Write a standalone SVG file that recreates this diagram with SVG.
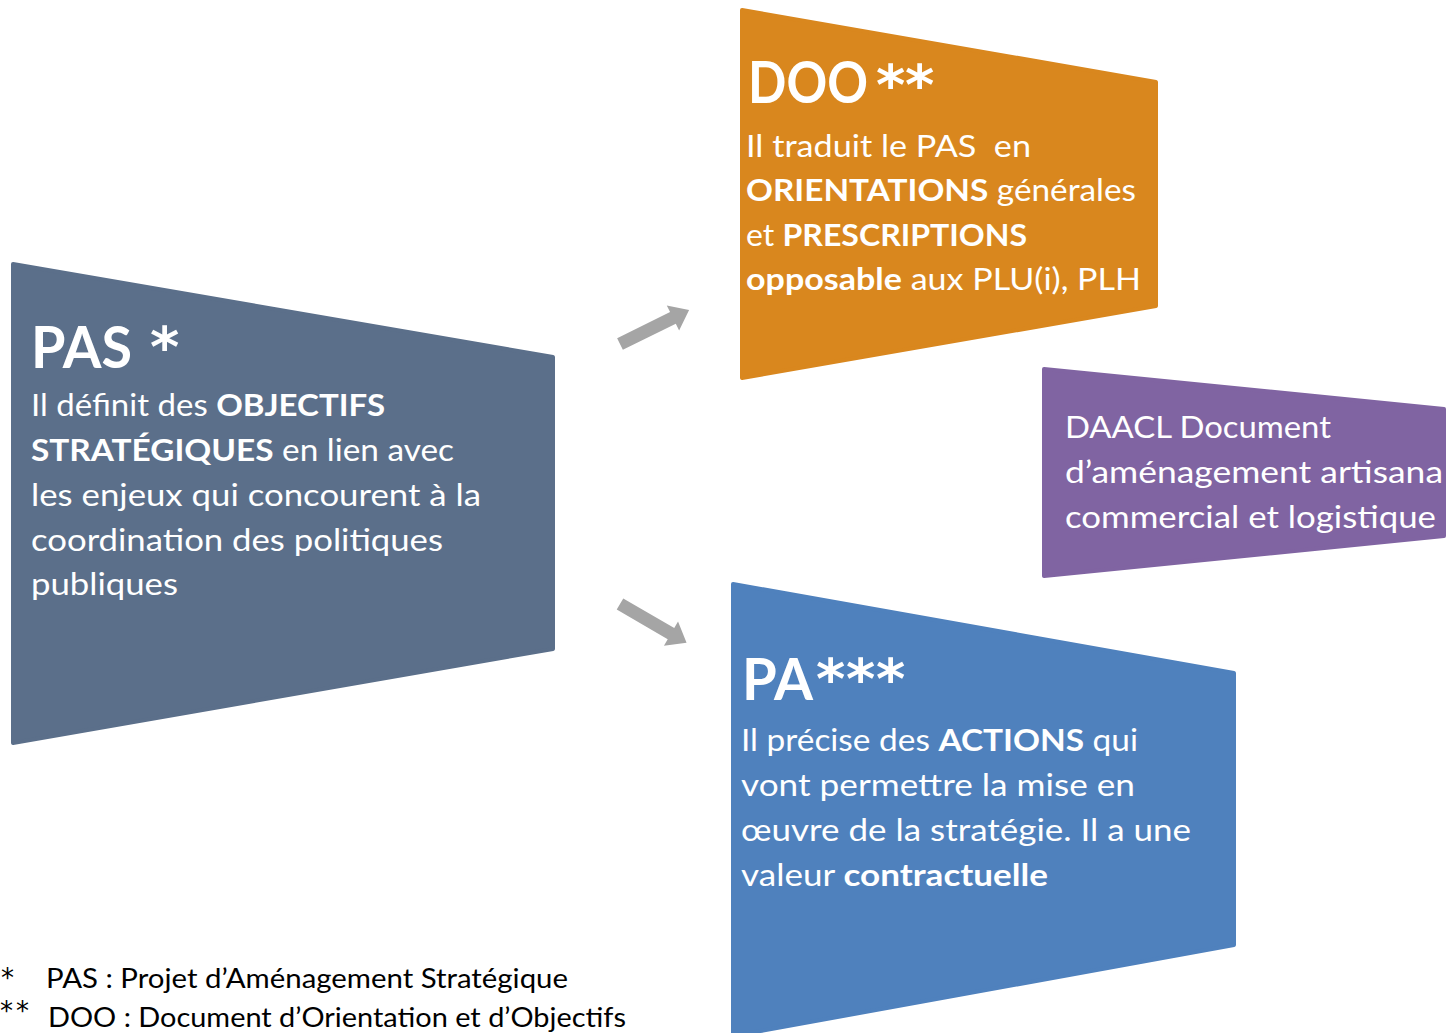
<svg xmlns="http://www.w3.org/2000/svg" width="1448" height="1033" viewBox="0 0 1448 1033">
<style>
  .t { font-family: Lato, "Open Sans", "Liberation Sans", sans-serif; fill: #ffffff; }
  .title { font-size: 58px; font-weight: bold; }
  .ast { font-family: "DejaVu Sans", "Liberation Sans", sans-serif; font-size: 56px; font-weight: bold; fill: #ffffff; }
  .body { font-size: 31px; }
  .b { font-weight: bold; }
  .foot { font-family: Lato, "Open Sans", "Liberation Sans", sans-serif; font-size: 26px; fill: #000000; }
  .fast { font-family: "DejaVu Sans", "Liberation Sans", sans-serif; font-size: 26px; fill: #000000; }
  .shape { stroke-width: 4; stroke-linejoin: round; }
  .arrow { fill: #A5A5A5; }
</style>
<defs>
  <polygon id="arr" points="0,-6.5 59,-6.5 59,-14 77,0 59,14 59,6.5 0,6.5"/>
</defs>
<rect width="1448" height="1033" fill="#ffffff"/>

<g id="connectors">
  <use href="#arr" class="arrow" transform="translate(620,344) rotate(-26.2)"/>
  <use href="#arr" class="arrow" transform="translate(620,604) rotate(30.2)"/>
</g>

<g id="pas">
  <polygon class="shape" points="13,264 553,357 553,649 13,743" fill="#5B6F8A" stroke="#5B6F8A"/>
  <text class="t title" x="31" y="368" textLength="101" lengthAdjust="spacingAndGlyphs">PAS</text>
  <text class="ast" x="150" y="366">*</text>
  <text class="t body" x="31" y="416" textLength="354" lengthAdjust="spacingAndGlyphs">Il définit des <tspan class="b">OBJECTIFS</tspan></text>
  <text class="t body" x="31" y="461" textLength="423" lengthAdjust="spacingAndGlyphs"><tspan class="b">STRATÉGIQUES</tspan> en lien avec</text>
  <text class="t body" x="31" y="506" textLength="450" lengthAdjust="spacingAndGlyphs">les enjeux qui concourent à la</text>
  <text class="t body" x="31" y="551" textLength="412" lengthAdjust="spacingAndGlyphs">coordination des politiques</text>
  <text class="t body" x="31" y="595" textLength="147" lengthAdjust="spacingAndGlyphs">publiques</text>
</g>

<g id="doo">
  <polygon class="shape" points="742,10 1156,82 1156,306 742,378" fill="#D9871E" stroke="#D9871E"/>
  <text class="t title" x="748" y="103" textLength="120" lengthAdjust="spacingAndGlyphs">DOO</text>
  <text class="ast" x="876" y="104">*</text>
  <text class="ast" x="905" y="104">*</text>
  <text class="t body" x="746" y="157" textLength="285" lengthAdjust="spacingAndGlyphs" xml:space="preserve">Il traduit le PAS  en</text>
  <text class="t body" x="746" y="201" textLength="390" lengthAdjust="spacingAndGlyphs"><tspan class="b">ORIENTATIONS</tspan> générales</text>
  <text class="t body" x="746" y="246" textLength="281" lengthAdjust="spacingAndGlyphs">et <tspan class="b">PRESCRIPTIONS</tspan></text>
  <text class="t body" x="746" y="290" textLength="395" lengthAdjust="spacingAndGlyphs"><tspan class="b">opposable</tspan> aux PLU(i), PLH</text>
</g>

<g id="daacl">
  <polygon class="shape" points="1044,369 1444,409 1444,536 1044,576" fill="#8064A2" stroke="#8064A2"/>
  <text class="t body" x="1065" y="438" textLength="266" lengthAdjust="spacingAndGlyphs">DAACL Document</text>
  <text class="t body" x="1065" y="483" textLength="378" lengthAdjust="spacingAndGlyphs">d’aménagement artisana</text>
  <text class="t body" x="1065" y="528" textLength="371" lengthAdjust="spacingAndGlyphs">commercial et logistique</text>
</g>

<g id="pa">
  <polygon class="shape" points="733,584 1234,673 1234,945 733,1036" fill="#4F81BD" stroke="#4F81BD"/>
  <text class="t title" x="742" y="700" textLength="71" lengthAdjust="spacingAndGlyphs">PA</text>
  <text class="ast" x="816" y="698">*</text>
  <text class="ast" x="846" y="698">*</text>
  <text class="ast" x="876" y="698">*</text>
  <text class="t body" x="741" y="751" textLength="397" lengthAdjust="spacingAndGlyphs">Il précise des <tspan class="b">ACTIONS</tspan> qui</text>
  <text class="t body" x="741" y="796" textLength="394" lengthAdjust="spacingAndGlyphs">vont permettre la mise en</text>
  <text class="t body" x="741" y="841" textLength="450" lengthAdjust="spacingAndGlyphs">œuvre de la stratégie. Il a une</text>
  <text class="t body" x="741" y="886" textLength="307" lengthAdjust="spacingAndGlyphs">valeur <tspan class="b">contractuelle</tspan></text>
</g>

<g id="footnotes">
  <text class="fast" x="1" y="987">*</text>
  <text class="foot" x="46" y="988" textLength="522" lengthAdjust="spacingAndGlyphs">PAS : Projet d’Aménagement Stratégique</text>
  <text class="fast" x="0" y="1020">*</text>
  <text class="fast" x="16" y="1020">*</text>
  <text class="foot" x="48" y="1027" textLength="578" lengthAdjust="spacingAndGlyphs">DOO : Document d’Orientation et d’Objectifs</text>
</g>
</svg>
